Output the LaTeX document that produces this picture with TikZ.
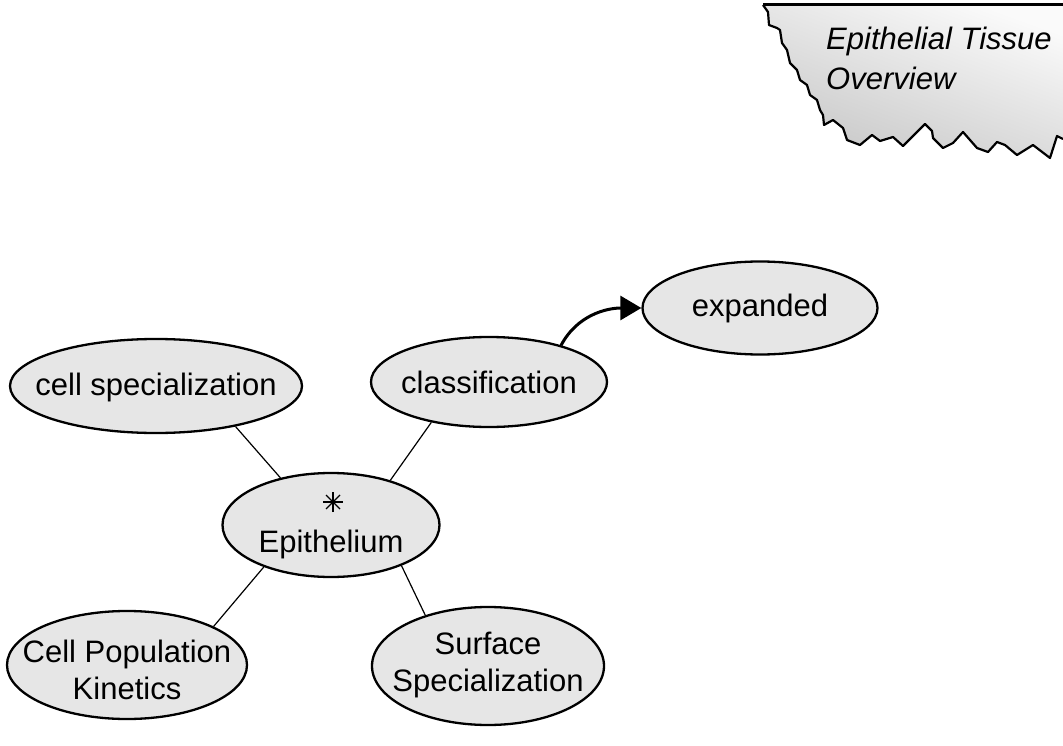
\documentclass[tikz,border=0pt]{standalone}
\usepackage{fontspec}
\setmainfont{Liberation Sans}
\usetikzlibrary{shapes.geometric,arrows.meta}
\definecolor{bubblegray}{RGB}{230,230,230}
\definecolor{tornlight}{RGB}{250,250,250}
\definecolor{torndark}{RGB}{200,200,200}
% zero-size text boxes so the ellipse keeps its given size
\newcommand{\bubline}[2]{\smash{\makebox[0pt]{\raisebox{#1}{#2}}}}
\newcommand{\bubtwo}[2]{\smash{\makebox[0pt]{\raisebox{#1}{\begin{tabular}{@{}c@{}}#2\end{tabular}}}}}
\begin{document}
\begin{tikzpicture}[x=1pt,y=-1pt,
  bubble/.style={ellipse, draw=black, line width=2.3pt, fill=bubblegray, inner sep=0pt,
    font=\fontsize{31}{37}\selectfont},
  link/.style={draw=black, line width=1.2pt},
  flow/.style={draw=black, line width=3pt, -{Triangle[length=21pt,width=24pt]}},
  startick/.style={draw=black, line width=1.1pt},
  titletext/.style={font=\fontsize{31}{40}\selectfont\itshape, align=left, inner sep=0pt}]
\useasboundingbox (0,0) rectangle (1063,746);

% torn banner
\shade[top color=tornlight, bottom color=torndark, shading angle=-20]
  (763,5) -- (768,12) -- (769,25) -- (777,28) -- (780,30) -- (782,43) -- (787,50)
  -- (790,63) -- (797,70) -- (800,80) -- (807,85) -- (810,95) -- (817,100) -- (820,110)
  -- (823,115) -- (824,125) -- (833,120) -- (843,128) -- (847,140) -- (860,145)
  -- (872,135) -- (880,141) -- (893,137) -- (903,146) -- (925,124) -- (932,131)
  -- (933,138) -- (943,148) -- (953,143) -- (963,132) -- (977,148) -- (988,152)
  -- (997,142) -- (1005,145) -- (1017,155) -- (1033,145) -- (1050,158) -- (1057,136)
  -- (1063,139) -- (1063,5) -- cycle;
\draw[line width=2.2pt, line join=round]
  (763,5) -- (768,12) -- (769,25) -- (777,28) -- (780,30) -- (782,43) -- (787,50)
  -- (790,63) -- (797,70) -- (800,80) -- (807,85) -- (810,95) -- (817,100) -- (820,110)
  -- (823,115) -- (824,125) -- (833,120) -- (843,128) -- (847,140) -- (860,145)
  -- (872,135) -- (880,141) -- (893,137) -- (903,146) -- (925,124) -- (932,131)
  -- (933,138) -- (943,148) -- (953,143) -- (963,132) -- (977,148) -- (988,152)
  -- (997,142) -- (1005,145) -- (1017,155) -- (1033,145) -- (1050,158) -- (1057,136)
  -- (1063,139);
\draw[line width=3pt] (763,5) -- (1063,5);
\node[titletext, anchor=north west] (title) at (826,27) {Epithelial Tissue\\Overview};

% bubbles
\node[bubble, minimum width=292pt, minimum height=94pt] (cs) at (156,386) {\bubline{-9pt}{cell specialization}};
\node[bubble, minimum width=236pt, minimum height=90pt] (cl) at (489,382) {\bubline{-11pt}{classification}};
\node[bubble, minimum width=235pt, minimum height=93pt] (ex) at (760,308) {\bubline{-9pt}{expanded}};
\node[bubble, minimum width=217pt, minimum height=104pt] (ep) at (331,525) {\bubline{-27pt}{Epithelium}};
\node[bubble, minimum width=240pt, minimum height=108pt] (cpk) at (127,665) {\bubtwo{-15pt}{Cell Population\\Kinetics}};
\node[bubble, minimum width=232pt, minimum height=118pt] (ss) at (488,666) {\bubtwo{-6pt}{Surface\\Specialization}};

% asterisk
\coordinate (star) at (333,502);
\draw[startick] ([xshift=-10pt]star) -- ([xshift=10pt]star);
\draw[startick] ([yshift=-10pt]star) -- ([yshift=10pt]star);
\draw[startick] ([xshift=-7pt,yshift=-7pt]star) -- ([xshift=7pt,yshift=7pt]star);
\draw[startick] ([xshift=-7pt,yshift=7pt]star) -- ([xshift=7pt,yshift=-7pt]star);

% connectors
\draw[link] (cs.-27) -- (ep.137);
\draw[link] (cl.-145) -- (ep.37);
\draw[link] (ep.-148) -- (cpk.24);
\draw[link] (ep.-30) -- (ss.141);
\draw[flow] (cl.27) to[out=62, in=180] (ex.west);
\end{tikzpicture}
\end{document}
